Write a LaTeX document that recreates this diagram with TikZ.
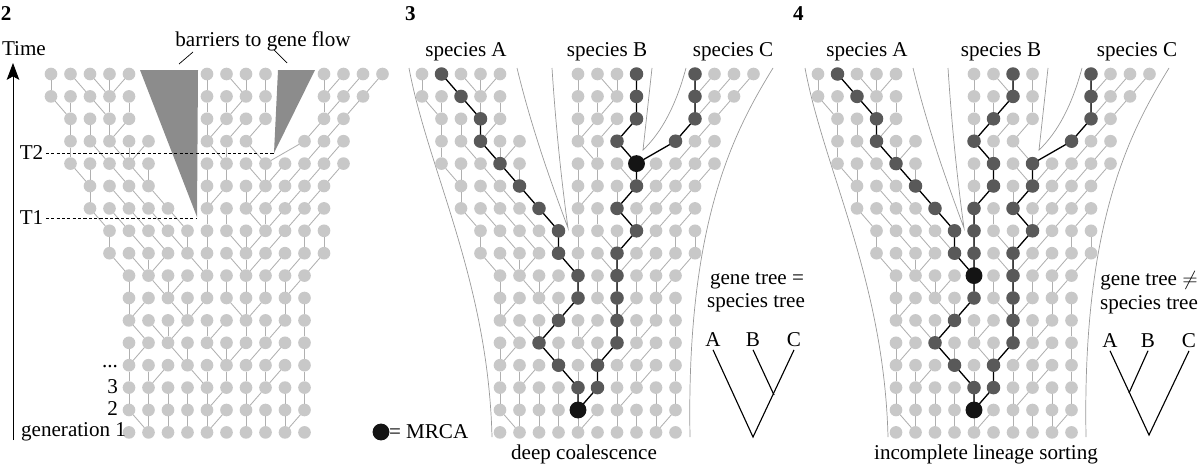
\documentclass[tikz,border=0pt]{standalone}
\usepackage{fontspec}
\setmainfont{Liberation Serif}
\usetikzlibrary{arrows.meta}
\definecolor{dotgray}{HTML}{C8C8C8}
\definecolor{linkgray}{HTML}{B0B0B0}
\definecolor{lingray}{HTML}{595959}
\definecolor{wallgray}{HTML}{8C8C8C}
\definecolor{edgegray}{HTML}{9A9A9A}

% row/{column/offset of the parent in the row below,...}
\def\genealogy{0/{0/0,1/1,2/1,3/0,4/-1,8/0,9/1,10/0,11/0,14/0,15/-1,16/-1,17/-1},
1/{0/1,1/0,2/1,3/0,4/0,8/0,9/0,10/-1,11/0,14/0,15/-1,16/-1},
2/{1/0,2/0,3/0,4/-1,8/0,9/-1,10/-1,11/-1,14/-1,15/-1},
3/{1/0,2/1,3/1,4/0,5/-1,8/1,9/0,10/1,13/-2,14/-1,15/-1},
4/{1/1,2/0,3/1,4/1,5/0,8/0,9/0,10/1,11/0,12/-1,13/-1,14/-1,15/-1},
5/{2/0,3/1,4/1,5/1,8/0,9/-1,10/0,11/-1,12/-1,13/-1,14/-1},
6/{2/1,3/1,4/1,5/1,6/1,8/0,9/0,10/1,11/0,12/-1,13/-1,14/-1},
7/{3/0,4/1,5/1,6/1,7/0,8/0,9/1,10/0,11/-1,12/-1,13/0,14/0},
8/{3/1,4/1,5/0,6/-1,7/1,8/0,9/1,10/0,11/-1,12/-1,13/-1,14/-1},
9/{4/0,5/1,6/0,7/-1,8/0,9/0,10/0,11/0,12/0,13/-1},
10/{4/0,5/-1,6/1,7/0,8/-1,9/1,10/0,11/-1,12/0,13/0},
11/{4/1,5/1,6/0,7/-1,8/0,9/-1,10/0,11/0,12/-1,13/0},
12/{4/0,5/-1,6/1,7/0,8/1,9/0,10/-1,11/-1,12/-1,13/0},
13/{4/0,5/0,6/-1,7/1,8/0,9/0,10/0,11/0,12/-1,13/0},
14/{4/0,5/0,6/0,7/0,8/0,9/-1,10/0,11/-1,12/0,13/0},
15/{4/1,5/0,6/0,7/0,8/0,9/-1,10/0,11/0,12/0,13/-1},
16/{4/0,5/0,6/0,7/0,8/0,9/0,10/0,11/0,12/0,13/0}}

% #1 name prefix, #2 x of the first column
\newcommand{\population}[2]{%
  \foreach \r/\row in \genealogy {
    \foreach \k/\d in \row {
      \node[dot] (#1-\r-\k) at ({#2+19.5*\k},{74+22.4*\r}) {};
    }
  }
  \foreach \r/\row in \genealogy {
    \ifnum\r<16
    \foreach \k/\d in \row {
      \pgfmathtruncatemacro\pk{\k+\d}
      \pgfmathtruncatemacro\pr{\r+1}
      \draw[link] (#1-\r-\k) -- (#1-\pr-\pk);
    }
    \fi
  }
}

\begin{document}
\begin{tikzpicture}[x=0.025cm,y=-0.025cm,inner sep=0pt,outer sep=0pt,
  dot/.style={circle,fill=dotgray,minimum size=9pt},
  link/.style={linkgray,line width=0.6pt},
  lineage/.style={black,line width=0.9pt},
  dark/.style={circle,fill=lingray,minimum size=9.6pt},
  mrca/.style={circle,fill=black!92,minimum size=12pt},
  lbl/.style={font=\fontsize{15}{17}\selectfont},
  num/.style={font=\fontsize{15}{17}\selectfont\bfseries},
  sepline/.style={edgegray,line width=0.5pt},
  tline/.style={dash pattern=on 2.2pt off 1.6pt,line width=0.5pt},
  treeline/.style={line width=0.8pt}]
\useasboundingbox (0,0) rectangle (1200,467);

% ---- panel 2
\population{b}{51}
\fill[wallgray] (140,70) -- (198,70) -- (197,217) -- cycle;
\fill[wallgray] (278,70) -- (315,70) -- (274,153) -- cycle;
\node[num,anchor=base west] (n2) at (1,20) {2};
\node[lbl,anchor=base west] (time) at (2,55) {Time};
\coordinate (tbot) at (13,440);
\coordinate (ttop) at (13,63);
\draw[line width=0.7pt,-{Stealth[length=12pt,width=9pt,inset=2.5pt]}] (tbot) -- (ttop);
\node[lbl,anchor=base] (barriers) at (263,46) {barriers to gene flow};
\coordinate (b1s) at (193,52);
\coordinate (b1e) at (179,64);
\coordinate (b2s) at (274,50);
\coordinate (b2e) at (287,63);
\draw[line width=0.5pt] (b1s) -- (b1e);
\draw[line width=0.5pt] (b2s) -- (b2e);
\node[lbl,anchor=east,inner sep=2pt] (T2) at (46,153) {T2};
\node[lbl,anchor=east,inner sep=2pt] (T1) at (46,218) {T1};
\coordinate (t2end) at (275,153);
\coordinate (t1end) at (197,218);
\draw[tline] (T2) -- (t2end);
\draw[tline] (T1) -- (t1end);
\node[lbl,anchor=base east] (gdots) at (118,367) {...};
\node[lbl,anchor=east] (g3) at (118,387) {3};
\node[lbl,anchor=east] (g2) at (118,409) {2};
\node[lbl,anchor=east] (g1) at (126,432) {generation 1};

% ---- species borders, panels 3 and 4
\foreach \sx in {0,396} {
  \begin{scope}[shift={(\sx,0)}]
  \draw[sepline] (409,68) .. controls (428,170) and (488,280) .. (492,437);
  \draw[sepline] (773,68) .. controls (735,130) and (686,220) .. (690,437);
  \draw[sepline] (517,68) .. controls (532,130) and (552,185) .. (568,228) .. controls (562,185) and (556,130) .. (552,68);
  \draw[sepline] (652,68) -- (643,150) .. controls (662,132) and (676,105) .. (686,68);
  \end{scope}
}

% ---- panel 3
\population{c}{422}
\draw[lineage] (c-0-1) -- (c-1-2) -- (c-2-3) -- (c-3-3) -- (c-4-4) -- (c-5-5) -- (c-6-6) -- (c-7-7) -- (c-8-7) -- (c-9-8) -- (c-10-8) -- (c-11-7) -- (c-12-6) -- (c-13-7) -- (c-14-8) -- (c-15-8);
\draw[lineage] (c-0-11) -- (c-1-11) -- (c-2-11) -- (c-3-10) -- (c-4-11) -- (c-5-11) -- (c-6-10) -- (c-7-11) -- (c-8-10) -- (c-9-10) -- (c-10-10) -- (c-11-10) -- (c-12-10) -- (c-13-9) -- (c-14-9) -- (c-15-8);
\draw[lineage] (c-0-14) -- (c-1-14) -- (c-2-14) -- (c-3-13) -- (c-4-11);
\foreach \n in {0-1,1-2,2-3,3-3,4-4,5-5,6-6,7-7,8-7,9-8,10-8,11-7,12-6,13-7,14-8,0-11,1-11,2-11,3-10,0-14,1-14,2-14,3-13,5-11,6-10,7-11,8-10,9-10,10-10,11-10,12-10,13-9,14-9}
  \node[dark] (c-h\n) at (c-\n) {};
\node[mrca] (c-bc) at (c-4-11) {};
\node[mrca] (c-all) at (c-15-8) {};
\node[num,anchor=base west] (n3) at (405,20) {3};
\node[lbl,anchor=base] (spA3) at (466,56) {species A};
\node[lbl,anchor=base] (spB3) at (607,56) {species B};
\node[lbl,anchor=base] (spC3) at (733,56) {species C};
\node[mrca] (key) at (381,432) {};
\node[lbl,anchor=west] (keytxt) at (389,432) {= MRCA};
\node[lbl,anchor=base] (cap3) at (584,459) {deep coalescence};
\node[lbl,anchor=base] (gt3a) at (757,284) {gene tree =};
\node[lbl,anchor=base] (gt3b) at (756,307) {species tree};
\node[lbl,inner sep=2pt] (A3) at (713,340) {A};
\node[lbl,inner sep=2pt] (B3) at (753,340) {B};
\node[lbl,inner sep=2pt] (C3) at (794,340) {C};
\coordinate (root3) at (753,437);
\coordinate (join3) at (774,395);
\draw[treeline] (A3.south) -- (root3) -- (C3.south);
\draw[treeline] (B3.south) -- (join3);

% ---- panel 4
\population{d}{818}
\draw[lineage] (d-0-1) -- (d-1-2) -- (d-2-3) -- (d-3-3) -- (d-4-4) -- (d-5-5) -- (d-6-6) -- (d-7-7) -- (d-8-7) -- (d-9-8) -- (d-10-8) -- (d-11-7) -- (d-12-6) -- (d-13-7) -- (d-14-8) -- (d-15-8);
\draw[lineage] (d-0-10) -- (d-1-10) -- (d-2-9) -- (d-3-8) -- (d-4-9) -- (d-5-9) -- (d-6-8) -- (d-7-8) -- (d-8-8) -- (d-9-8);
\draw[lineage] (d-0-14) -- (d-1-14) -- (d-2-14) -- (d-3-13) -- (d-4-11) -- (d-5-11) -- (d-6-10) -- (d-7-11) -- (d-8-10) -- (d-9-10) -- (d-10-10) -- (d-11-10) -- (d-12-10) -- (d-13-9) -- (d-14-9) -- (d-15-8);
\foreach \n in {0-1,1-2,2-3,3-3,4-4,5-5,6-6,7-7,8-7,10-8,11-7,12-6,13-7,14-8,0-10,1-10,2-9,3-8,4-9,5-9,6-8,7-8,8-8,0-14,1-14,2-14,3-13,4-11,5-11,6-10,7-11,8-10,9-10,10-10,11-10,12-10,13-9,14-9}
  \node[dark] (d-h\n) at (d-\n) {};
\node[mrca] (d-ab) at (d-9-8) {};
\node[mrca] (d-all) at (d-15-8) {};
\node[num,anchor=base west] (n4) at (793,20) {4};
\node[lbl,anchor=base] (spA4) at (867,56) {species A};
\node[lbl,anchor=base] (spB4) at (1001,56) {species B};
\node[lbl,anchor=base] (spC4) at (1137,56) {species C};
\node[lbl,anchor=base] (cap4) at (986,459) {incomplete lineage sorting};
\node[lbl,anchor=base] (gt4a) at (1149,285) {gene tree $\neq$};
\node[lbl,anchor=base] (gt4b) at (1149,309) {species tree};
\node[lbl,inner sep=2pt] (A4) at (1110,341) {A};
\node[lbl,inner sep=2pt] (B4) at (1148,341) {B};
\node[lbl,inner sep=2pt] (C4) at (1189,341) {C};
\coordinate (root4) at (1149,435);
\coordinate (join4) at (1129,393);
\draw[treeline] (A4.south) -- (root4) -- (C4.south);
\draw[treeline] (B4.south) -- (join4);
\end{tikzpicture}
\end{document}
